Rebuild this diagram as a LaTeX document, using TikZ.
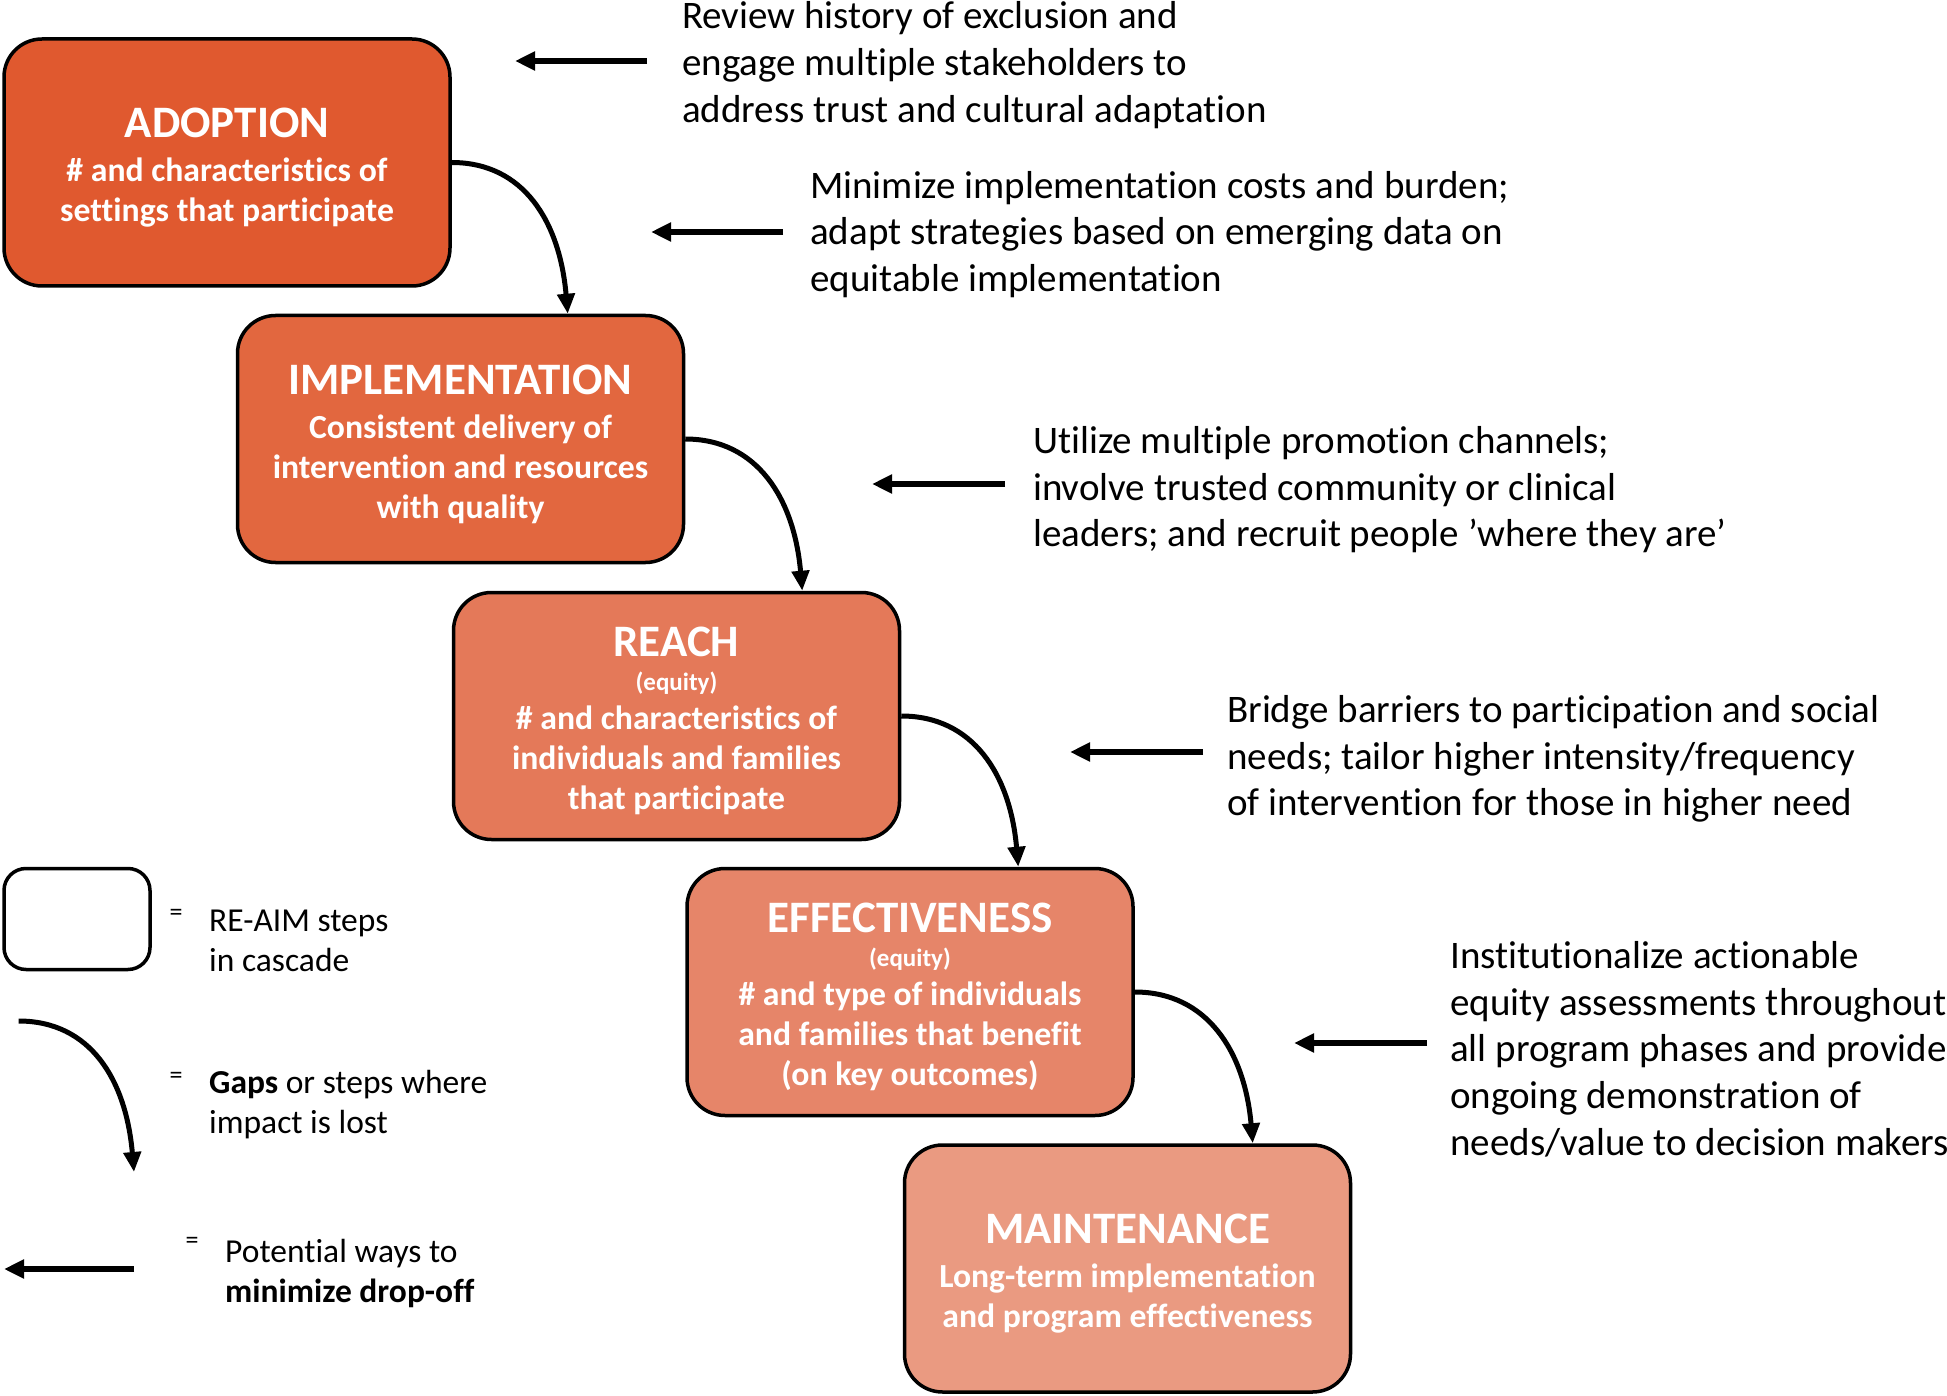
\documentclass[tikz,border=0pt]{standalone}
\usepackage{fontspec}
\setmainfont{Carlito}[Ligatures=NoCommon]
\usetikzlibrary{arrows.meta,calc}
\definecolor{cA}{RGB}{224,89,47}
\definecolor{cB}{RGB}{226,103,63}
\definecolor{cC}{RGB}{228,121,89}
\definecolor{cD}{RGB}{230,133,105}
\definecolor{cE}{RGB}{234,154,129}
\newcommand{\ttl}[1]{{\fontsize{45}{40}\selectfont\rule{0pt}{40pt}#1}}
\newcommand{\eqty}{{\fontsize{25}{40}\selectfont (equity)}}
\begin{document}
\begin{tikzpicture}[x=1pt,y=-1pt,
  stepbox/.style={draw=black,line width=3.5pt,rounded corners=38pt,minimum width=446pt,minimum height=247pt,inner sep=0pt,align=center,text=white,font={\fontsize{33.7}{40}\selectfont\bfseries}},
  gaparrow/.style={line width=5pt,-{Triangle[length=20pt,width=17pt]}},
  fixarrow/.style={line width=6pt,-{Triangle[length=20pt,width=18pt]}},
  note/.style={anchor=west,align=left,inner sep=0pt,font={\fontsize{39}{46.6}\selectfont}},
  legtext/.style={anchor=west,align=left,inner sep=0pt,font={\fontsize{33.5}{40}\selectfont}},
  eqsign/.style={inner sep=0pt,font={\fontsize{26}{28}\selectfont}},
]
\useasboundingbox (0,0) rectangle (1947,1396);

% cascade boxes
\node[stepbox,fill=cA] (A) at (227,162.5) {\ttl{ADOPTION}\\[4pt]\# and characteristics of\\settings that participate};
\node[stepbox,fill=cB] (B) at (460.5,439) {\ttl{IMPLEMENTATION}\\[4pt]Consistent delivery of\\intervention and resources\\with quality};
\node[stepbox,fill=cC] (C) at (676.5,716) {\ttl{REACH}\\[-6pt]\eqty\\[-1pt]\# and characteristics of\\individuals and families\\that participate};
\node[stepbox,fill=cD] (D) at (910,992) {\ttl{EFFECTIVENESS}\\[-6pt]\eqty\\[-1pt]\# and type of individuals\\and families that benefit\\(on key outcomes)};
\node[stepbox,fill=cE] (E) at (1127.5,1268.5) {\ttl{MAINTENANCE}\\[4pt]Long-term implementation\\and program effectiveness};

% gap arrows
\path (A.east) ++(116,0) coordinate (t1);
\path (B.east) ++(117,0) coordinate (t2);
\path (C.east) ++(117,0) coordinate (t3);
\path (D.east) ++(118,0) coordinate (t4);
\coordinate (e1) at (t1 |- B.north);
\coordinate (e2) at (t2 |- C.north);
\coordinate (e3) at (t3 |- D.north);
\coordinate (e4) at (t4 |- E.north);
\draw[gaparrow] (A.east) .. controls +(72,0) and +(-8,-92) .. (e1);
\draw[gaparrow] (B.east) .. controls +(72,0) and +(-8,-92) .. (e2);
\draw[gaparrow] (C.east) .. controls +(72,0) and +(-8,-92) .. (e3);
\draw[gaparrow] (D.east) .. controls +(72,0) and +(-8,-92) .. (e4);

% notes
\node[note] (n1) at (682,65.2) {Review history of exclusion and\\engage multiple stakeholders to\\address trust and cultural adaptation};
\node[note] (n2) at (810,234.5) {Minimize implementation costs and burden;\\adapt strategies based on emerging data on\\equitable implementation};
\node[note] (n3) at (1033,490) {Utilize multiple promotion channels;\\involve trusted community or clinical\\leaders; and recruit people ’where they are’};
\node[note] (n4) at (1227,759.2) {Bridge barriers to participation and social\\needs; tailor higher intensity/frequency\\of intervention for those in higher need};
\node[note] (n5) at (1450,1049.2) {Institutionalize actionable\\equity assessments throughout\\all program phases and provide\\ongoing demonstration of\\needs/value to decision makers};

% minimize arrows
\coordinate (s1) at (647,61);   \coordinate (f1) at (515,61);
\coordinate (s2) at (783,232);  \coordinate (f2) at (651,232);
\coordinate (s3) at (1005,484); \coordinate (f3) at (872,484);
\coordinate (s4) at (1203,752); \coordinate (f4) at (1070,752);
\coordinate (s5) at (1427,1043);\coordinate (f5) at (1294,1043);
\draw[fixarrow] (s1) -- (f1);
\draw[fixarrow] (s2) -- (f2);
\draw[fixarrow] (s3) -- (f3);
\draw[fixarrow] (s4) -- (f4);
\draw[fixarrow] (s5) -- (f5);

% legend
\node[draw=black,line width=3.5pt,rounded corners=22pt,minimum width=146pt,minimum height=101pt,inner sep=0pt] (lb) at (77,919) {};
\node[eqsign] (q1) at (176,915) {=};
\node[legtext] (l1) at (209,941.2) {RE-AIM steps\\in cascade};
\coordinate (ls) at (18.6,1021);
\coordinate (le) at (134,1172);
\draw[gaparrow] (ls) .. controls +(72,0) and +(-8,-92) .. (le);
\node[eqsign] (q2) at (176,1078) {=};
\node[legtext] (l2) at (209,1105) {\textbf{Gaps} or steps where\\impact is lost};
\coordinate (la) at (134,1269);
\coordinate (lz) at (4,1269);
\draw[fixarrow] (la) -- (lz);
\node[eqsign] (q3) at (192,1243) {=};
\node[legtext] (l3) at (225,1273) {Potential ways to\\\textbf{minimize drop-off}};
\end{tikzpicture}
\end{document}
